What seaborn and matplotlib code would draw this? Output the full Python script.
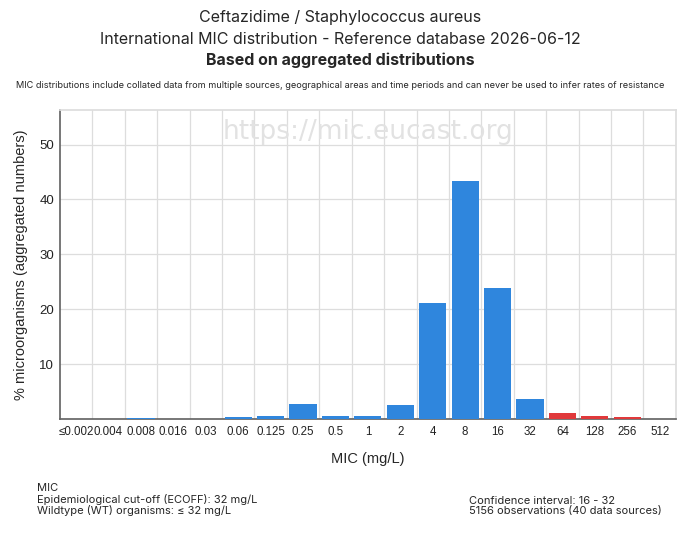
import matplotlib.pyplot as plt
import numpy as np
import pandas as pd
import seaborn as sns

mic_labels = ["≤0.002", "0.004", "0.008", "0.016", "0.03", "0.06", "0.125",
              "0.25", "0.5", "1", "2", "4", "8", "16", "32", "64", "128",
              "256", "512"]
percent = [0.0, 0.0, 0.2, 0.0, 0.0, 0.3, 0.5, 2.7, 0.5, 0.6, 2.5, 21.2,
           43.3, 23.9, 3.6, 1.1, 0.6, 0.3, 0.0]
ecoff = 32

BLUE = "#2f86dd"
RED = "#e0393b"


def main():
    sns.set_theme(style="white")
    plt.rcParams['font.family'] = ['Liberation Sans', 'DejaVu Sans']

    df = pd.DataFrame({"mic": mic_labels, "pct": percent})
    df["group"] = ["wt" if i <= mic_labels.index(str(ecoff)) else "nwt"
                   for i in range(len(df))]

    fig = plt.figure(figsize=(6.8, 5.42), dpi=100)
    ax = fig.add_axes([0.088, 0.227, 0.906, 0.570])

    sns.barplot(data=df, x="mic", y="pct", hue="group",
                palette={"wt": BLUE, "nwt": RED}, width=0.84,
                saturation=1, linewidth=0, dodge=False, legend=False,
                ax=ax, zorder=3)

    n = len(mic_labels)
    ax.set_xlim(-0.5, n - 0.5)
    ax.set_ylim(0, 56.3)
    ax.set_yticks([10, 20, 30, 40, 50])
    for b in np.arange(0.5, n - 0.5, 1):
        ax.axvline(b, color="#dddddd", lw=0.9, zorder=1)
    for y in [10, 20, 30, 40, 50]:
        ax.axhline(y, color="#dddddd", lw=0.9, zorder=1)

    for s in ["top", "right"]:
        ax.spines[s].set_color("#dddddd")
    for s in ["left", "bottom"]:
        ax.spines[s].set_color("#666666")
    ax.tick_params(axis="y", labelsize=9.5, length=0, pad=4,
                   colors="#222222")
    ax.tick_params(axis="x", labelsize=8.3, length=0, pad=5,
                   colors="#222222")
    ax.set_xlabel("MIC (mg/L)", fontsize=10.5, labelpad=10)
    ax.set_ylabel("% microorganisms (aggregated numbers)", fontsize=10.5,
                  labelpad=8)

    ax.text(0.5, 0.93, "https://mic.eucast.org", transform=ax.transAxes,
            ha="center", va="center", fontsize=19, color="#e2e2e2",
            family=["DejaVu Sans"], zorder=2)

    tf = ['Inter', 'DejaVu Sans']
    fig.text(0.5, 0.968, "Ceftazidime / Staphylococcus aureus",
             ha="center", va="center", fontsize=11.5, family=tf)
    fig.text(0.5, 0.928, "International MIC distribution - Reference database 2026-06-12",
             ha="center", va="center", fontsize=11.5, family=tf)
    fig.text(0.5, 0.888, "Based on aggregated distributions",
             ha="center", va="center", fontsize=11.5, fontweight="bold",
             family=tf)
    fig.text(0.5, 0.843,
             "MIC distributions include collated data from multiple sources, "
             "geographical areas and time periods and can never be used to "
             "infer rates of resistance",
             ha="center", va="center", fontsize=6.6, family=tf)

    fig.text(0.055, 0.078,
             "MIC\nEpidemiological cut-off (ECOFF): 32 mg/L\n"
             "Wildtype (WT) organisms: \u2264 32 mg/L",
             ha="left", va="center", fontsize=8, linespacing=1.05, family=tf)
    fig.text(0.69, 0.066,
             "Confidence interval: 16 - 32\n"
             "5156 observations (40 data sources)",
             ha="left", va="center", fontsize=8, linespacing=1.05, family=tf)

    fig.savefig("out.png", dpi=100)
    plt.close(fig)


if __name__ == '__main__':
    main()
